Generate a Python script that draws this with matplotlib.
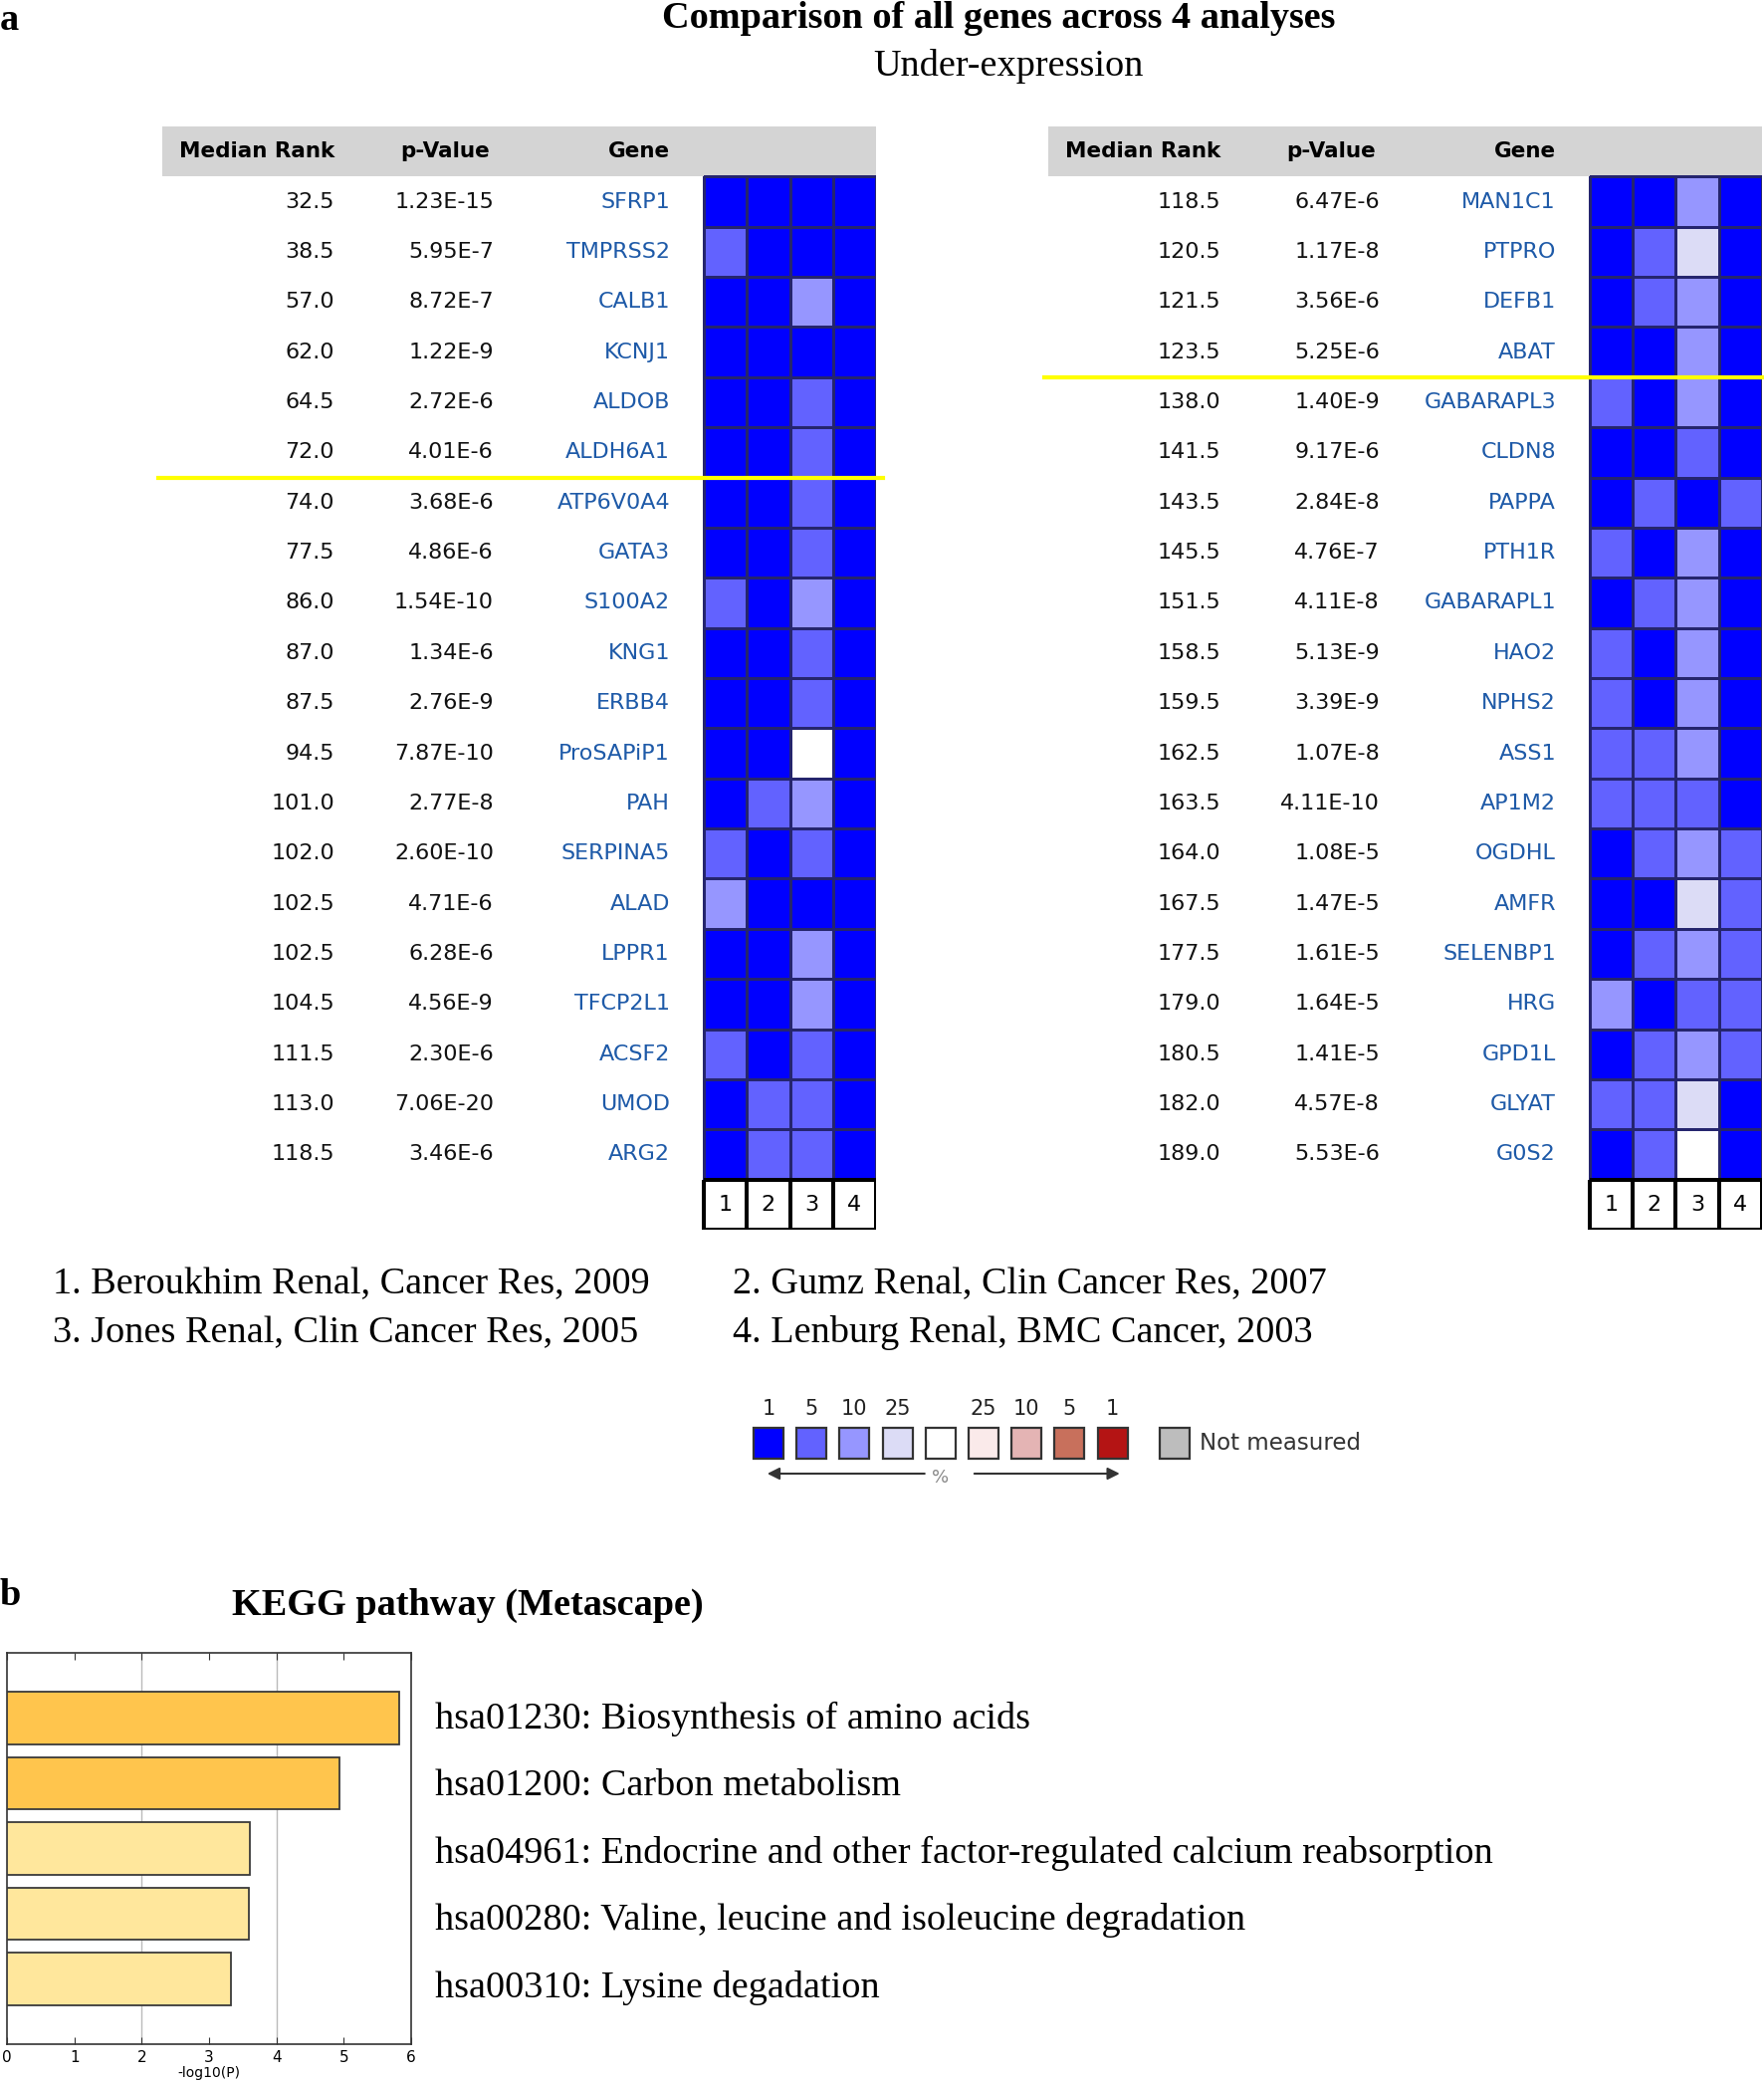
import numpy as np
import matplotlib.pyplot as plt
from matplotlib.colors import ListedColormap
from matplotlib.transforms import blended_transform_factory

W, H = 1772, 2090

# ---------------- panel a: Oncomine comparison ----------------
left_rank = ['32.5', '38.5', '57.0', '62.0', '64.5', '72.0', '74.0', '77.5', '86.0', '87.0',
             '87.5', '94.5', '101.0', '102.0', '102.5', '102.5', '104.5', '111.5', '113.0', '118.5']
left_p = ['1.23E-15', '5.95E-7', '8.72E-7', '1.22E-9', '2.72E-6', '4.01E-6', '3.68E-6', '4.86E-6',
          '1.54E-10', '1.34E-6', '2.76E-9', '7.87E-10', '2.77E-8', '2.60E-10', '4.71E-6', '6.28E-6',
          '4.56E-9', '2.30E-6', '7.06E-20', '3.46E-6']
left_gene = ['SFRP1', 'TMPRSS2', 'CALB1', 'KCNJ1', 'ALDOB', 'ALDH6A1', 'ATP6V0A4', 'GATA3', 'S100A2',
             'KNG1', 'ERBB4', 'ProSAPiP1', 'PAH', 'SERPINA5', 'ALAD', 'LPPR1', 'TFCP2L1', 'ACSF2',
             'UMOD', 'ARG2']
# rank class per analysis: 0 = top 1%, 1 = 5%, 2 = 10%, 3 = 25%, 4 = beyond
left_level = [[0, 0, 0, 0], [1, 0, 0, 0], [0, 0, 2, 0], [0, 0, 0, 0], [0, 0, 1, 0],
              [0, 0, 1, 0], [0, 0, 1, 0], [0, 0, 1, 0], [1, 0, 2, 0], [0, 0, 1, 0],
              [0, 0, 1, 0], [0, 0, 4, 0], [0, 1, 2, 0], [1, 0, 1, 0], [2, 0, 0, 0],
              [0, 0, 2, 0], [0, 0, 2, 0], [1, 0, 1, 0], [0, 1, 1, 0], [0, 1, 1, 0]]
left_cut = 6

right_rank = ['118.5', '120.5', '121.5', '123.5', '138.0', '141.5', '143.5', '145.5', '151.5', '158.5',
              '159.5', '162.5', '163.5', '164.0', '167.5', '177.5', '179.0', '180.5', '182.0', '189.0']
right_p = ['6.47E-6', '1.17E-8', '3.56E-6', '5.25E-6', '1.40E-9', '9.17E-6', '2.84E-8', '4.76E-7',
           '4.11E-8', '5.13E-9', '3.39E-9', '1.07E-8', '4.11E-10', '1.08E-5', '1.47E-5', '1.61E-5',
           '1.64E-5', '1.41E-5', '4.57E-8', '5.53E-6']
right_gene = ['MAN1C1', 'PTPRO', 'DEFB1', 'ABAT', 'GABARAPL3', 'CLDN8', 'PAPPA', 'PTH1R', 'GABARAPL1',
              'HAO2', 'NPHS2', 'ASS1', 'AP1M2', 'OGDHL', 'AMFR', 'SELENBP1', 'HRG', 'GPD1L',
              'GLYAT', 'G0S2']
right_level = [[0, 0, 2, 0], [0, 1, 3, 0], [0, 1, 2, 0], [0, 0, 2, 0], [1, 0, 2, 0],
               [0, 0, 1, 0], [0, 1, 0, 1], [1, 0, 2, 0], [0, 1, 2, 0], [1, 0, 2, 0],
               [1, 0, 2, 0], [1, 1, 2, 0], [1, 1, 1, 0], [0, 1, 2, 1], [0, 0, 3, 1],
               [0, 1, 2, 1], [2, 0, 1, 1], [0, 1, 2, 1], [1, 1, 3, 0], [0, 1, 4, 0]]
right_cut = 4

analyses = ['1', '2', '3', '4']
studies = ['1. Beroukhim Renal, Cancer Res, 2009', '2. Gumz Renal, Clin Cancer Res, 2007',
           '3. Jones Renal, Clin Cancer Res, 2005', '4. Lenburg Renal, BMC Cancer, 2003']

level_colors = ['#0000FF', '#6262FF', '#9696FF', '#DCDCF6', '#FFFFFF']
legend_labels = ['1', '5', '10', '25', '', '25', '10', '5', '1']
legend_colors = ['#0000FF', '#6262FF', '#9696FF', '#DCDCF6', '#FFFFFF',
                 '#FAEAEA', '#E4B4B4', '#C8705C', '#B41414']

# ---------------- panel b: KEGG ----------------
kegg_terms = ['hsa01230: Biosynthesis of amino acids',
              'hsa01200: Carbon metabolism',
              'hsa04961: Endocrine and other factor-regulated calcium reabsorption',
              'hsa00280: Valine, leucine and isoleucine degradation',
              'hsa00310: Lysine degadation']
kegg_logp = [5.83, 4.94, 3.61, 3.59, 3.32]
kegg_colors = ['#FFC54D', '#FFC54D', '#FFE79C', '#FFE79C', '#FFE79C']

SERIF = 'Liberation Serif'
SANS = 'DejaVu Sans'
fs_big = 27.5
fs_tab = 16


def fx(x):
    return x / W


def fy(y):
    return 1 - y / H


fig = plt.figure(figsize=(W / 100, H / 100), dpi=100)
cmap = ListedColormap(level_colors)


def draw_table(x0, rank, pval, gene, level, cut):
    ax = fig.add_axes([fx(x0), fy(1235), 717 / W, 1108 / H])
    ax.set_xlim(0, 717)
    ax.set_ylim(21, -1)
    ax.axis('off')
    ax.fill_between([0, 717], -1, 0, color='#D4D4D4', lw=0)
    ax.text(17, -0.5, 'Median Rank', ha='left', va='center', fontsize=15.5,
            fontweight='bold', family=SANS)
    ax.text(284, -0.5, 'p-Value', ha='center', va='center', fontsize=15.5,
            fontweight='bold', family=SANS)
    ax.text(510, -0.5, 'Gene', ha='right', va='center', fontsize=15.5,
            fontweight='bold', family=SANS)
    rows = np.arange(len(rank)) + 0.5
    for y, r, p, g in zip(rows, rank, pval, gene):
        ax.text(173, y, r, ha='right', va='center', fontsize=fs_tab, family=SANS, color='#111111')
        ax.text(333, y, p, ha='right', va='center', fontsize=fs_tab, family=SANS, color='#111111')
        ax.text(510, y, g, ha='right', va='center', fontsize=fs_tab, family=SANS, color='#1E5AA8')
    xe = np.linspace(544, 717, len(analyses) + 1)
    ye = np.arange(len(rank) + 1)
    ax.pcolormesh(xe, ye, np.array(level), cmap=cmap, vmin=-0.5, vmax=4.5,
                  edgecolors='#25256e', linewidth=0.8)
    # analysis number boxes
    ax.pcolormesh(xe, [len(rank), len(rank) + 1], np.zeros((1, len(analyses))),
                  cmap=ListedColormap(['white']), edgecolors='black', linewidth=1.5)
    xc = (xe[:-1] + xe[1:]) / 2
    for x, lab in zip(xc, analyses):
        ax.text(x, len(rank) + 0.5, lab, ha='center', va='center', fontsize=fs_tab, family=SANS)
    ax.plot([-4, 724], [cut, cut], color='#FFFF00', lw=3, clip_on=False)


draw_table(163, left_rank, left_p, left_gene, left_level, left_cut)
draw_table(1053, right_rank, right_p, right_gene, right_level, right_cut)

fig.text(fx(0), fy(20), 'a', fontsize=fs_big, fontweight='bold', family=SERIF, va='center')
fig.text(fx(1003), fy(18), 'Comparison of all genes across 4 analyses', fontsize=fs_big,
         fontweight='bold', family=SERIF, ha='center', va='center')
fig.text(fx(1013), fy(66), 'Under-expression', fontsize=fs_big, family=SERIF,
         ha='center', va='center')

foot_x = [53, 736, 53, 736]
foot_y = [1290, 1290, 1339, 1339]
for x, y, s in zip(foot_x, foot_y, studies):
    fig.text(fx(x), fy(y), s, fontsize=fs_big, family=SERIF, va='center')

# colour legend
axl = fig.add_axes([fx(740), fy(1500), 520 / W, 105 / H])
axl.set_xlim(740, 1260)
axl.set_ylim(1500, 1395)
axl.axis('off')
lx = 772 + 43.2 * np.arange(len(legend_colors))
axl.bar(lx, 31, bottom=1434, width=30, color=legend_colors, edgecolor='#333333', lw=1.6)
for x, lab in zip(lx, legend_labels):
    axl.text(x, 1415, lab, ha='center', va='center', fontsize=15, family=SANS, color='#222222')
axl.bar([1180], 31, bottom=1434, width=30, color='#BDBDBD', edgecolor='#333333', lw=1.6)
axl.text(1205, 1450, 'Not measured', ha='left', va='center', fontsize=16.5, family=SANS,
         color='#333333')
axl.annotate('', xy=(lx[0] - 4, 1480), xytext=(lx[3] + 30, 1480),
             arrowprops=dict(arrowstyle='-|>', color='#333333', lw=1.5, mutation_scale=18))
axl.annotate('', xy=(lx[-1] + 10, 1480), xytext=(lx[5] - 12, 1480),
             arrowprops=dict(arrowstyle='-|>', color='#333333', lw=1.5, mutation_scale=18))
axl.text(lx[4], 1484, '%', ha='center', va='center', fontsize=13, family=SANS, color='#888888')

# ---------------- panel b ----------------
fig.text(fx(0), fy(1603), 'b', fontsize=fs_big, fontweight='bold', family=SERIF, va='center')
fig.text(fx(233), fy(1612), 'KEGG pathway (Metascape)', fontsize=fs_big, fontweight='bold',
         family=SERIF, va='center')

axb = fig.add_axes([fx(7), fy(2053), 406 / W, 393 / H])
ypos = np.arange(len(kegg_terms))
axb.barh(ypos, kegg_logp, height=0.8, color=kegg_colors, edgecolor='#3a3a3a', lw=1.3, zorder=3)
axb.set_xlim(0, 6)
axb.set_ylim(len(kegg_terms), -1)
for gx in [2, 4]:
    axb.axvline(gx, color='#BBBBBB', lw=1, zorder=1)
axb.set_xticks(range(7))
axb.set_yticks([])
axb.tick_params(axis='x', direction='in', top=True, length=5, labelsize=11, pad=4,
                color='#333333')
axb.set_xlabel('-log10(P)', fontsize=10, labelpad=1)
for s in axb.spines.values():
    s.set_color('#333333')
    s.set_linewidth(1.2)
tr = blended_transform_factory(axb.transAxes, axb.transData)
# term labels sit on a slightly looser pitch than the bars
for y, term in zip(ypos, kegg_terms):
    axb.text(1.059, y * 1.03 + 0.01, term, transform=tr, fontsize=fs_big, family=SERIF,
             va='center')

fig.savefig('out.png', dpi=100)
